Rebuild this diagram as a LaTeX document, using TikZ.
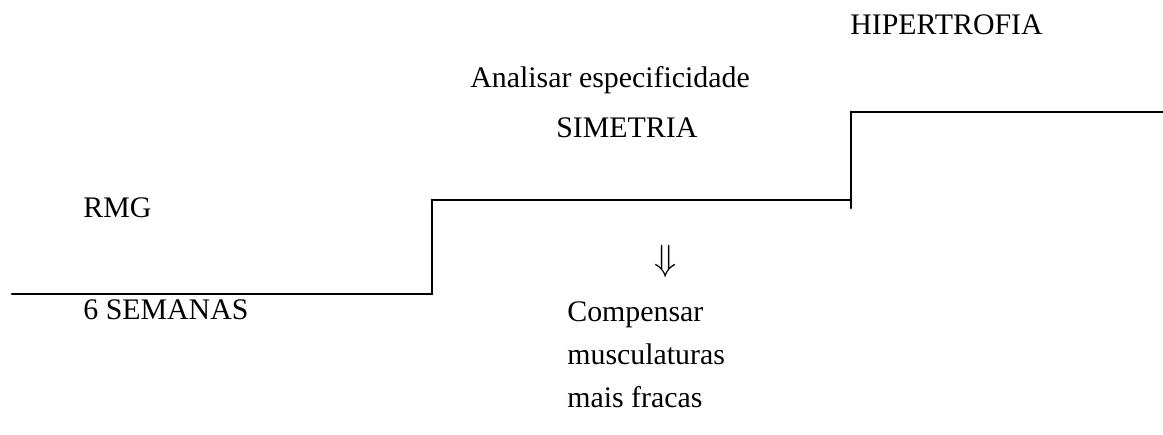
\documentclass[tikz,border=0pt]{standalone}
\usepackage{fontspec}
\setmainfont{Liberation Serif}
\usepackage{amssymb}
\usepackage{tikz}

\begin{document}
\begin{tikzpicture}[line cap=round,line join=round,x=0.02cm,y=0.02cm,
  lbl/.style={anchor=base west,inner sep=0pt,font=\fontsize{17}{20}\selectfont},
  stair/.style={line width=1.6pt}]
\useasboundingbox (0,0) rectangle (1163,435);
% degraus
\draw [stair] (12,141)-- (432,141);
\draw [stair] (432,141)-- (432,235);
\draw [stair] (432,235)-- (851,235);
\draw [stair] (851,227)-- (851,323);
\draw [stair] (851,323)-- (1163,323);
% textos
\node [lbl] (rmg) at (83,217) {RMG};
\node [lbl] (semanas) at (83,115) {6 SEMANAS};
\node [lbl] (analisar) at (470,347) {Analisar especificidade};
\node [lbl] (simetria) at (556,297) {SIMETRIA};
\node [lbl] (hiper) at (850,400) {HIPERTROFIA};
\node [inner sep=0pt,font=\fontsize{21}{25}\selectfont] (seta) at (666,174) {$\Downarrow$};
\node [lbl] (comp) at (567,113) {Compensar};
\node [lbl] (musc) at (567,70) {musculaturas};
\node [lbl] (fracas) at (567,27) {mais fracas};
\end{tikzpicture}
\end{document}
